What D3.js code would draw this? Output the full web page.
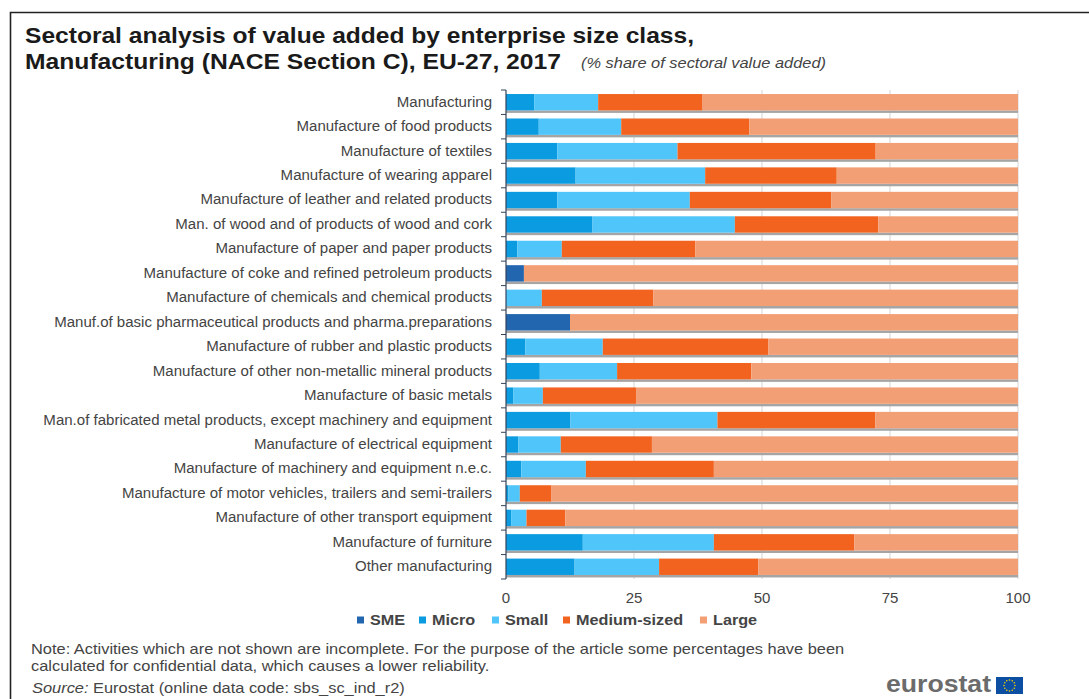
<!DOCTYPE html>
<html>
<head>
<meta charset="utf-8">
<script src="https://cdn.jsdelivr.net/npm/d3@7/dist/d3.min.js"></script>
<style>
  html, body { margin: 0; padding: 0; background: #fff; }
  svg { display: block; font-family: "Liberation Sans", Arial, sans-serif; }
</style>
</head>
<body>
<svg id="chart" width="1089" height="699"></svg>
<script>
// Value added by enterprise size class, share of each sector (%)
const categories = [
  "Manufacturing",
  "Manufacture of food products",
  "Manufacture of textiles",
  "Manufacture of wearing apparel",
  "Manufacture of leather and related products",
  "Man. of wood and of products of wood and cork",
  "Manufacture of paper and paper products",
  "Manufacture of coke and refined petroleum products",
  "Manufacture of chemicals and chemical products",
  "Manuf.of basic pharmaceutical products and pharma.preparations",
  "Manufacture of rubber and plastic products",
  "Manufacture of other non-metallic mineral products",
  "Manufacture of basic metals",
  "Man.of fabricated metal products, except machinery and equipment",
  "Manufacture of electrical equipment",
  "Manufacture of machinery and equipment n.e.c.",
  "Manufacture of motor vehicles, trailers and semi-trailers",
  "Manufacture of other transport equipment",
  "Manufacture of furniture",
  "Other manufacturing"
];
const sme    = [0, 0, 0, 0, 0, 0, 0, 3.5, 0, 12.5, 0, 0, 0, 0, 0, 0, 0, 0, 0, 0];
const micro  = [5.5, 6.4, 10.0, 13.6, 10.0, 16.9, 2.2, 0, 0, 0, 3.8, 6.6, 1.4, 12.6, 2.4, 3.0, 0.5, 1.0, 15.0, 13.4];
const small  = [12.5, 16.1, 23.5, 25.3, 25.9, 27.8, 8.7, 0, 7.0, 0, 15.1, 15.1, 5.8, 28.7, 8.3, 12.6, 2.2, 3.0, 25.6, 16.5];
const medium = [20.4, 25.0, 38.7, 25.7, 27.6, 28.0, 26.1, 0, 21.8, 0, 32.3, 26.2, 18.2, 30.8, 17.8, 25.0, 6.2, 7.6, 27.4, 19.4];
const large  = [61.6, 52.5, 27.8, 35.4, 36.5, 27.3, 63.0, 96.5, 71.2, 87.5, 48.8, 52.1, 74.6, 27.9, 71.5, 59.4, 91.1, 88.4, 32.0, 50.7];

const seriesNames = ["SME", "Micro", "Small", "Medium-sized", "Large"];
const seriesValues = [sme, micro, small, medium, large];
const seriesColors = ["#2366b0", "#0a9be0", "#4fc5fa", "#f1631f", "#f39f75"];
const xTicks = [0, 25, 50, 75, 100];
const legendTextX = [370, 432, 505, 576, 713];

const svg = d3.select("#chart");
const textColor = "#444";

// Widens text horizontally by stretching its glyphs
function widen(selection, factor) {
  selection.each(function () {
    const len = this.getComputedTextLength();
    d3.select(this).attr("textLength", len * factor).attr("lengthAdjust", "spacingAndGlyphs");
  });
  return selection;
}

// Outer frame: only the top and left edges are drawn
svg.append("path")
  .attr("d", "M10.5,699V12.5H1089")
  .attr("fill", "none")
  .attr("stroke", "#222")
  .attr("stroke-width", 1.6);

// Two-line heading with the unit note beside it
svg.append("text").attr("x", 25).attr("y", 43)
  .attr("font-size", 21.5).attr("font-weight", "bold").attr("fill", "#1a1a1a")
  .attr("textLength", 669).attr("lengthAdjust", "spacingAndGlyphs")
  .text("Sectoral analysis of value added by enterprise size class,");
svg.append("text").attr("x", 25).attr("y", 69)
  .attr("font-size", 21.5).attr("font-weight", "bold").attr("fill", "#1a1a1a")
  .attr("textLength", 536).attr("lengthAdjust", "spacingAndGlyphs")
  .text("Manufacturing (NACE Section C), EU-27, 2017");
svg.append("text").attr("x", 581).attr("y", 68)
  .attr("font-size", 14.5).attr("font-style", "italic").attr("fill", textColor)
  .attr("textLength", 245).attr("lengthAdjust", "spacingAndGlyphs")
  .text("(% share of sectoral value added)");

// Scales
const x = d3.scaleLinear().domain([0, 100]).range([506, 1018]);
const y = d3.scaleBand().domain(categories).range([90, 579]).paddingInner(0.33).paddingOuter(0.165);

// Vertical gridlines behind the bars
svg.append("g").selectAll("line").data(xTicks.slice(1)).join("line")
  .attr("x1", d => x(d)).attr("x2", d => x(d))
  .attr("y1", 90).attr("y2", 579)
  .attr("stroke", "#d4d4d4").attr("stroke-width", 1);

// Soft grey shadow under each bar
svg.append("g").selectAll("rect").data(categories).join("rect")
  .attr("x", x(0)).attr("width", x(100) - x(0))
  .attr("y", d => y(d) + y.bandwidth()).attr("height", 2.5)
  .attr("fill", "#a5a5a5");

// Stacked bars
const rows = categories.map((c, i) => {
  const row = { category: c };
  seriesNames.forEach((name, s) => { row[name] = seriesValues[s][i]; });
  return row;
});
const stacked = d3.stack().keys(seriesNames)(rows);
svg.append("g").selectAll("g").data(stacked).join("g")
  .attr("fill", (d, i) => seriesColors[i])
  .selectAll("rect").data(d => d).join("rect")
  .attr("x", d => x(d[0]))
  .attr("width", d => x(d[1]) - x(d[0]))
  .attr("y", d => y(d.data.category))
  .attr("height", y.bandwidth());

// Category axis with ticks on the band boundaries
const yAxis = svg.append("g").attr("transform", "translate(506,0)");
yAxis.append("line").attr("y1", 90).attr("y2", 579).attr("stroke", "#33445a").attr("stroke-width", 1.2);
yAxis.selectAll("line.tick").data(d3.range(categories.length + 1)).join("line")
  .attr("class", "tick")
  .attr("x1", -5).attr("x2", 0)
  .attr("y1", i => 90 + i * (489 / categories.length))
  .attr("y2", i => 90 + i * (489 / categories.length))
  .attr("stroke", "#33445a").attr("stroke-width", 1);
yAxis.selectAll("text").data(categories).join("text")
  .attr("x", -14)
  .attr("y", d => y(d) + y.bandwidth() / 2 - 0.3)
  .attr("dy", "0.34em")
  .attr("text-anchor", "end")
  .attr("font-size", 14)
  .attr("fill", textColor)
  .text(d => d)
  .call(widen, 15.03 / 14);

// Value axis labels
svg.append("g").selectAll("text").data(xTicks).join("text")
  .attr("x", d => x(d)).attr("y", 603)
  .attr("text-anchor", "middle")
  .attr("font-size", 15)
  .attr("fill", textColor)
  .text(d => d);

// Legend
const legend = svg.append("g").selectAll("g").data(seriesNames).join("g");
legend.append("rect")
  .attr("x", (d, i) => legendTextX[i] - 13).attr("y", 616.5)
  .attr("width", 7).attr("height", 7)
  .attr("fill", (d, i) => seriesColors[i]);
legend.append("text")
  .attr("x", (d, i) => legendTextX[i]).attr("y", 625)
  .attr("font-size", 15).attr("font-weight", "bold").attr("fill", textColor)
  .text(d => d)
  .call(widen, 16.2 / 15);

// Notes and source
const noteLines = [
  "Note: Activities which are not shown are incomplete. For the purpose of the article some percentages have been",
  "calculated for confidential data, which causes a lower reliability."
];
svg.append("g").selectAll("text").data(noteLines).join("text")
  .attr("x", 31).attr("y", (d, i) => 654 + i * 17)
  .attr("font-size", 15).attr("fill", textColor)
  .text(d => d)
  .call(widen, 16.4 / 15);
svg.append("text").attr("x", 32).attr("y", 693).attr("font-size", 15).attr("font-style", "italic")
  .attr("fill", textColor).text("Source:").call(widen, 16.4 / 15);
svg.append("text").attr("x", 93).attr("y", 693).attr("font-size", 15)
  .attr("fill", textColor).text("Eurostat (online data code: sbs_sc_ind_r2)").call(widen, 16.4 / 15);

// Eurostat wordmark and flag
svg.append("text").attr("x", 886).attr("y", 692)
  .attr("font-size", 23).attr("font-weight", "bold").attr("fill", "#6b6b6b")
  .attr("textLength", 105).attr("lengthAdjust", "spacingAndGlyphs")
  .text("eurostat");
svg.append("rect").attr("x", 996).attr("y", 677).attr("width", 27).attr("height", 17).attr("fill", "#0b4ea2");
svg.append("g").selectAll("circle").data(d3.range(12)).join("circle")
  .attr("cx", i => 1009.5 + 5.5 * Math.cos(i * Math.PI / 6))
  .attr("cy", i => 685.5 + 5.5 * Math.sin(i * Math.PI / 6))
  .attr("r", 0.8)
  .attr("fill", "#f5d000");
</script>
</body>
</html>
